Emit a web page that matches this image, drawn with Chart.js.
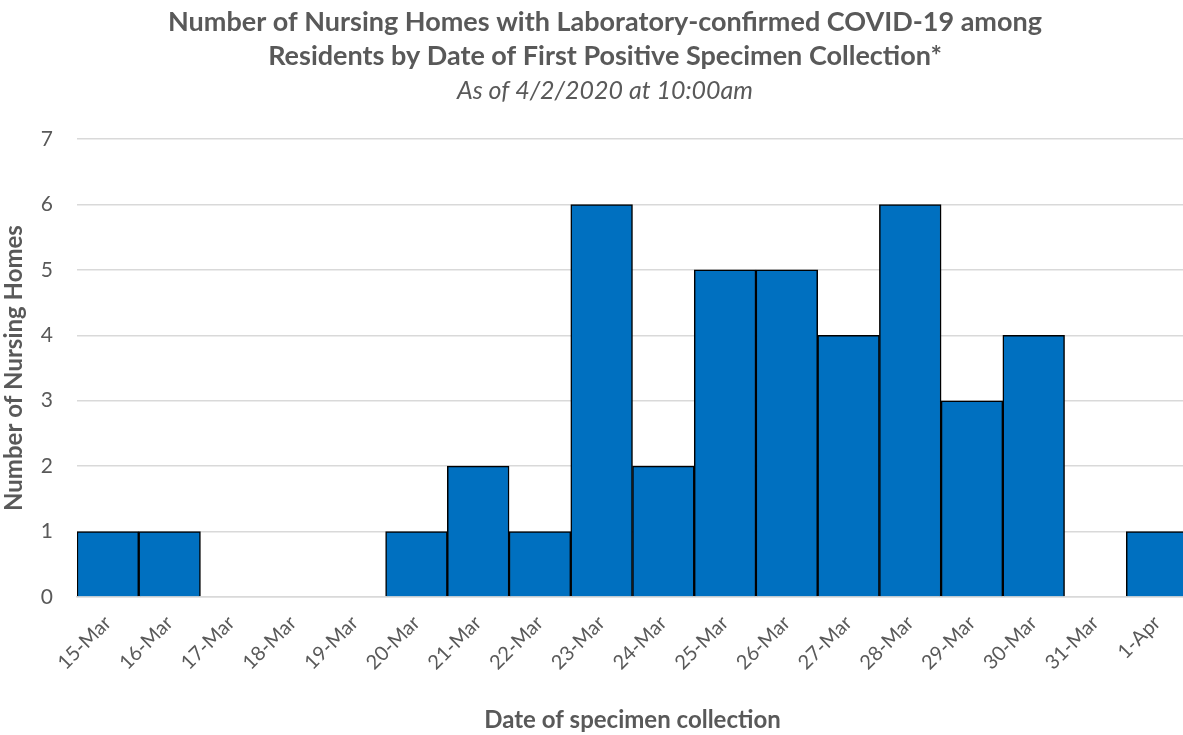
<!DOCTYPE html>
<html>
<head>
<meta charset="utf-8">
<script src="https://cdn.jsdelivr.net/npm/chart.js@4"></script>
<style>
  html, body { margin: 0; padding: 0; background: #fff; overflow: hidden; }
  #wrap { width: 1192px; height: 735px; }
</style>
</head>
<body>
<div id="wrap"><canvas id="nhChart"></canvas></div>
<script>
const dates = ['15-Mar', '16-Mar', '17-Mar', '18-Mar', '19-Mar', '20-Mar', '21-Mar', '22-Mar', '23-Mar',
  '24-Mar', '25-Mar', '26-Mar', '27-Mar', '28-Mar', '29-Mar', '30-Mar', '31-Mar', '1-Apr'];
const homes = [1, 1, 0, 0, 0, 1, 2, 1, 6, 2, 5, 5, 4, 6, 3, 4, 0, 1];
const titleLines = ['Number of Nursing Homes with Laboratory-confirmed COVID-19 among',
  'Residents by Date of First Positive Specimen Collection*'];
const subtitleText = 'As of 4/2/2020 at 10:00am';

const grey = '#595959';
const fam = 'Lato, "Open Sans", sans-serif';

const ctx = document.getElementById('nhChart');

new Chart(ctx, {
  type: 'bar',
  data: {
    labels: dates,
    datasets: [{
      label: 'Nursing homes',
      data: homes,
      backgroundColor: '#0070C0',
      borderColor: '#000000',
      borderWidth: 1.5,
      categoryPercentage: 1,
      barPercentage: 1
    }]
  },
  options: {
    responsive: true,
    maintainAspectRatio: false,
    animation: false,
    layout: { padding: { left: 22, right: 4, top: 5, bottom: 0 } },
    plugins: {
      legend: { display: false },
      tooltip: { enabled: false },
      title: {
        display: true,
        text: titleLines,
        color: grey,
        font: { family: fam, size: 27, weight: 'bold', lineHeight: 1.26 },
        padding: { top: 0, bottom: 0 }
      },
      subtitle: {
        display: true,
        text: subtitleText,
        color: grey,
        font: { family: fam, size: 25, style: 'italic', lineHeight: 1.4 },
        padding: { top: 0, bottom: 31 }
      }
    },
    scales: {
      x: {
        grid: { display: false },
        border: { color: '#d9d9d9', width: 1.5 },
        ticks: {
          color: grey,
          font: { family: fam, size: 20 },
          maxRotation: 45,
          minRotation: 45,
          autoSkip: false,
          padding: 6
        },
        title: {
          display: true,
          text: 'Date of specimen collection',
          color: grey,
          font: { family: fam, size: 24, weight: 'bold' },
          padding: { top: 0, bottom: 0 }
        },
        afterFit: (s) => { s.height = 138; }
      },
      y: {
        min: 0,
        max: 7,
        ticks: {
          stepSize: 1,
          color: grey,
          font: { family: fam, size: 21 },
          padding: 24
        },
        grid: { color: '#d9d9d9', lineWidth: 1.5, drawTicks: false },
        border: { display: false },
        title: {
          display: true,
          text: 'Number of Nursing Homes',
          color: grey,
          font: { family: fam, size: 24, weight: 'bold' },
          padding: { top: -22, bottom: 0 }
        },
        afterFit: (s) => { s.width = 55; }
      }
    }
  }
});
</script>
</body>
</html>
